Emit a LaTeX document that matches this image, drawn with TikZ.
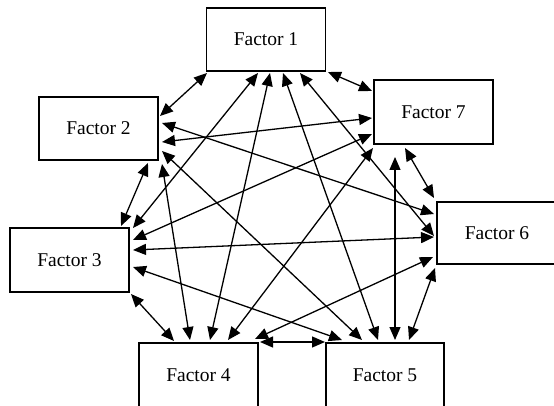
\documentclass[tikz,border=0pt]{standalone}
\usepackage{fontspec}
\setmainfont{Liberation Serif}
\usetikzlibrary{arrows.meta,calc}
\begin{document}
\begin{tikzpicture}[x=1pt,y=-1pt,
  factor/.style={draw,line width=1.8pt,minimum width=119pt,minimum height=63pt,inner sep=0pt,font=\fontsize{19.5}{23}\selectfont},
  arr/.style={line width=1.3pt,{Triangle[length=13pt,width=11pt]}-{Triangle[length=13pt,width=11pt]}}]
\useasboundingbox (0,0) rectangle (554,406);
\clip (0,0) rectangle (554,406);
\node[factor] (f1) at (266,39.5) {Factor 1};
\node[factor] (f2) at (98.5,128.5) {Factor 2};
\node[factor,minimum height=64pt] (f7) at (433.5,112) {Factor 7};
\node[factor,minimum height=64pt] (f3) at (69.5,260) {Factor 3};
\node[factor,minimum width=120pt,minimum height=62pt] (f6) at (497,233) {Factor 6};
\node[factor,minimum height=64pt] (f4) at (198.5,375) {Factor 4};
\node[factor,minimum width=118pt,minimum height=64pt] (f5) at (385,375) {Factor 5};
% outer ring
\draw[arr] ($(f1.center)+(-59,33.5)$) -- ($(f2.center)+(61.5,-12.5)$);
\draw[arr] ($(f1.center)+(62,32.5)$) -- ($(f7.center)+(-61.5,-21)$);
\draw[arr] ($(f7.center)+(-28.5,36)$) -- ($(f6.center)+(-63,-35)$);
\draw[arr] ($(f6.center)+(-62,35)$) -- ($(f5.center)+(24,-35)$);
\draw[arr] ($(f5.center)+(-60,-33)$) -- ($(f4.center)+(61.5,-33)$);
\draw[arr] ($(f4.center)+(-24.5,-34)$) -- ($(f3.center)+(61.5,34)$);
\draw[arr] ($(f3.center)+(51.5,-34)$) -- ($(f2.center)+(49.5,34.5)$);
% diagonals
\draw[arr] ($(f1.center)+(-8,33.5)$) -- ($(f3.center)+(63.5,-32)$);
\draw[arr] ($(f1.center)+(4,33.5)$) -- ($(f4.center)+(11.5,-35)$);
\draw[arr] ($(f1.center)+(17,33.5)$) -- ($(f5.center)+(-7,-35)$);
\draw[arr] ($(f1.center)+(34,33.5)$) -- ($(f6.center)+(-63,3)$);
\draw[arr] ($(f2.center)+(63.5,13.5)$) -- ($(f7.center)+(-61.5,6)$);
\draw[arr] ($(f2.center)+(63.5,-5.5)$) -- ($(f6.center)+(-63,-19)$);
\draw[arr] ($(f2.center)+(63.5,22.5)$) -- ($(f5.center)+(-23,-35)$);
\draw[arr] ($(f2.center)+(63.5,35.5)$) -- ($(f4.center)+(-8.5,-35)$);
\draw[arr] ($(f3.center)+(63.5,-20)$) -- ($(f7.center)+(-61.5,22)$);
\draw[arr] ($(f3.center)+(63.5,-10)$) -- ($(f6.center)+(-63,4)$);
\draw[arr] ($(f3.center)+(63.5,7)$) -- ($(f5.center)+(-43,-35)$);
\draw[arr] ($(f4.center)+(29.5,-35)$) -- ($(f7.center)+(-60.5,36)$);
\draw[arr] ($(f4.center)+(56.5,-36)$) -- ($(f6.center)+(-64,24)$);
\draw[arr] ($(f5.center)+(10,-35)$) -- ($(f7.center)+(-38.5,45)$);
\end{tikzpicture}
\end{document}
